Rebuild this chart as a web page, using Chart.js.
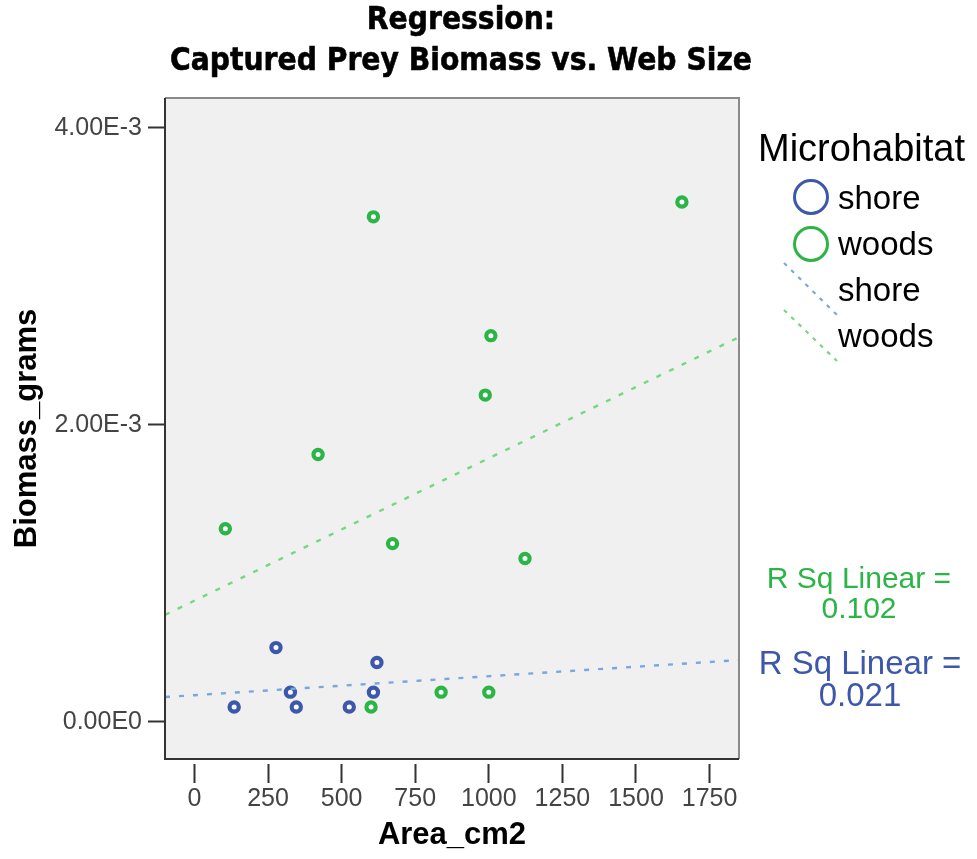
<!DOCTYPE html>
<html>
<head>
<meta charset="utf-8">
<script src="https://cdn.jsdelivr.net/npm/chart.js@4"></script>
<style>
  html, body { margin: 0; padding: 0; background: #fff; }
  #wrap { width: 977px; height: 859px; }
</style>
</head>
<body>
<div id="wrap"><canvas id="grafica" width="977" height="859"></canvas></div>
<script>
// data
const shoreArea = [135, 277, 326, 346, 526, 608, 620];
const shoreBiomass = [0.0001, 0.0005, 0.0002, 0.0001, 0.0001, 0.0002, 0.0004];
const woodsArea = [105, 420, 600, 608, 673, 838, 988, 1000, 1007, 1123, 1656];
const woodsBiomass = [0.0013, 0.0018, 0.0001, 0.0034, 0.0012, 0.0002, 0.0022, 0.0002, 0.0026, 0.0011, 0.0035];

// fit lines (end points)
const fitArea = [-100, 1850];
const shoreFit = [0.000167, 0.000416];
const woodsFit = [0.00072, 0.00259];
const shoreRsq = "0.021";
const woodsRsq = "0.102";

const xTicks = [0, 250, 500, 750, 1000, 1250, 1500, 1750];
const yTicks = [0, 0.002, 0.004];
const yTickLabels = ["0.00E0", "2.00E-3", "4.00E-3"];
const titleLines = ["Regression:", "Captured Prey Biomass vs. Web Size"];

const FONT = "'Liberation Sans', Arial, sans-serif";
const HEAVY = "'DejaVu Sans', 'Liberation Sans', sans-serif";
const BLUE = "#3d57ab";
const GREEN = "#2bb546";
const BLUE_LINE = "#78a8de";
const GREEN_LINE = "#74d880";

const pts = (xs, ys) => xs.map((x, i) => ({ x: x, y: ys[i] }));

const frame = {
  id: "frame",
  beforeDatasetsDraw(chart) {
    const { ctx, chartArea: a } = chart;
    ctx.save();
    ctx.fillStyle = "#f0f0f0";
    ctx.fillRect(a.left, a.top, a.right - a.left, a.bottom - a.top);
    ctx.restore();
  },
  afterDatasetsDraw(chart) {
    const { ctx, chartArea: a } = chart;
    ctx.save();
    ctx.lineWidth = 2;
    ctx.strokeStyle = "#8a8a8a";
    ctx.beginPath();
    ctx.moveTo(a.left, a.top);
    ctx.lineTo(a.right, a.top);
    ctx.lineTo(a.right, a.bottom);
    ctx.stroke();
    ctx.strokeStyle = "#333";
    ctx.beginPath();
    ctx.moveTo(a.left, a.top);
    ctx.lineTo(a.left, a.bottom);
    ctx.lineTo(a.right, a.bottom);
    ctx.stroke();
    ctx.restore();
  }
};

// heavy, narrow title like the original
const heavyTitle = {
  id: "heavyTitle",
  afterDraw(chart) {
    const ctx = chart.ctx;
    ctx.save();
    ctx.font = "bold 32px " + HEAVY;
    ctx.fillStyle = "#000";
    ctx.strokeStyle = "#000";
    ctx.lineWidth = 0.6;
    ctx.lineJoin = "round";
    ctx.textAlign = "center";
    ctx.textBaseline = "middle";
    const sx = 582 / ctx.measureText(titleLines[1]).width;
    ctx.translate(461, 0);
    ctx.scale(sx, 1);
    ctx.fillText(titleLines[0], 0, 21);
    ctx.strokeText(titleLines[0], 0, 21);
    ctx.fillText(titleLines[1], 0, 62);
    ctx.strokeText(titleLines[1], 0, 62);
    ctx.restore();
  }
};

const legendSide = {
  id: "legendSide",
  afterDraw(chart) {
    const ctx = chart.ctx;
    ctx.save();
    ctx.textBaseline = "middle";
    ctx.fillStyle = "#000";
    ctx.font = "38px " + FONT;
    ctx.textAlign = "left";
    ctx.fillText("Microhabitat", 758, 151);

    ctx.font = "33px " + FONT;
    const circle = (cx, cy, col) => {
      ctx.beginPath();
      ctx.arc(cx, cy, 16.5, 0, Math.PI * 2);
      ctx.fillStyle = "#fff";
      ctx.fill();
      ctx.lineWidth = 3;
      ctx.strokeStyle = col;
      ctx.stroke();
    };
    circle(811, 197, BLUE);
    circle(811, 244, GREEN);
    ctx.fillStyle = "#000";
    ctx.fillText("shore", 838, 200);
    ctx.fillText("woods", 838, 246);

    const dash = (x1, y1, x2, y2, col) => {
      ctx.beginPath();
      ctx.setLineDash([4, 6]);
      ctx.lineWidth = 2.2;
      ctx.strokeStyle = col;
      ctx.moveTo(x1, y1);
      ctx.lineTo(x2, y2);
      ctx.stroke();
      ctx.setLineDash([]);
    };
    dash(784, 263, 837, 315, BLUE_LINE);
    dash(784, 310, 837, 361, GREEN_LINE);
    ctx.fillStyle = "#000";
    ctx.fillText("shore", 838, 292);
    ctx.fillText("woods", 838, 338);

    ctx.textAlign = "center";
    ctx.fillStyle = GREEN;
    ctx.font = "30px " + FONT;
    ctx.fillText("R Sq Linear =", 859, 580);
    ctx.fillText(woodsRsq, 859, 610);
    ctx.fillStyle = BLUE;
    ctx.font = "33px " + FONT;
    ctx.fillText("R Sq Linear =", 860, 665);
    ctx.fillText(shoreRsq, 860, 697);
    ctx.restore();
  }
};

const ctx = document.getElementById("grafica").getContext("2d");
const chart = new Chart(ctx, {
  type: "scatter",
  data: {
    datasets: [
      {
        label: "shore fit",
        type: "line",
        data: pts(fitArea, shoreFit),
        borderColor: BLUE_LINE,
        borderWidth: 2.4,
        borderDash: [5, 9],
        pointRadius: 0,
        fill: false
      },
      {
        label: "woods fit",
        type: "line",
        data: pts(fitArea, woodsFit),
        borderColor: GREEN_LINE,
        borderWidth: 2.4,
        borderDash: [5, 9],
        pointRadius: 0,
        fill: false
      },
      {
        label: "shore",
        data: pts(shoreArea, shoreBiomass),
        pointStyle: "circle",
        pointRadius: 4.6,
        pointBorderWidth: 4.2,
        borderColor: BLUE,
        backgroundColor: "#fafafa"
      },
      {
        label: "woods",
        data: pts(woodsArea, woodsBiomass),
        pointStyle: "circle",
        pointRadius: 4.6,
        pointBorderWidth: 4.2,
        borderColor: GREEN,
        backgroundColor: "#fafafa"
      }
    ]
  },
  options: {
    responsive: false,
    animation: false,
    events: [],
    layout: { padding: { left: 0, right: 238, top: 98, bottom: 0 } },
    plugins: {
      legend: { display: false },
      tooltip: { enabled: false },
      title: { display: false }
    },
    scales: {
      x: {
        type: "linear",
        min: -100,
        max: 1850,
        afterBuildTicks: (s) => { s.ticks = xTicks.map((v) => ({ value: v })); },
        afterFit: (s) => { s.height = 100; },
        border: { display: false },
        grid: {
          drawOnChartArea: false,
          drawTicks: true,
          tickLength: 24,
          tickWidth: 2,
          tickColor: "#333",
          tickBorderDash: [0, 5, 19, 100]
        },
        ticks: {
          color: "#444",
          font: { family: FONT, size: 25 },
          padding: 1,
          maxRotation: 0,
          autoSkip: false,
          callback: (v) => String(v)
        },
        title: {
          display: true,
          text: "Area_cm2",
          color: "#000",
          font: { family: FONT, size: 31, weight: "bold", lineHeight: 1.2 },
          padding: { top: 0, bottom: 5 }
        }
      },
      y: {
        type: "linear",
        min: -0.00025,
        max: 0.0042,
        afterBuildTicks: (s) => { s.ticks = yTicks.map((v) => ({ value: v })); },
        afterFit: (s) => { s.width = 165; },
        border: { display: false },
        grid: {
          drawOnChartArea: false,
          drawTicks: true,
          tickLength: 17,
          tickWidth: 2,
          tickColor: "#333"
        },
        ticks: {
          color: "#444",
          font: { family: FONT, size: 25 },
          padding: 6,
          autoSkip: false,
          callback: (v) => yTickLabels[yTicks.indexOf(v)]
        },
        title: {
          display: true,
          text: "Biomass_grams",
          color: "#000",
          font: { family: FONT, size: 31, weight: "bold", lineHeight: 1.2 },
          padding: { top: 9, bottom: 0 }
        }
      }
    }
  },
  plugins: [frame, heavyTitle, legendSide]
});
</script>
</body>
</html>
